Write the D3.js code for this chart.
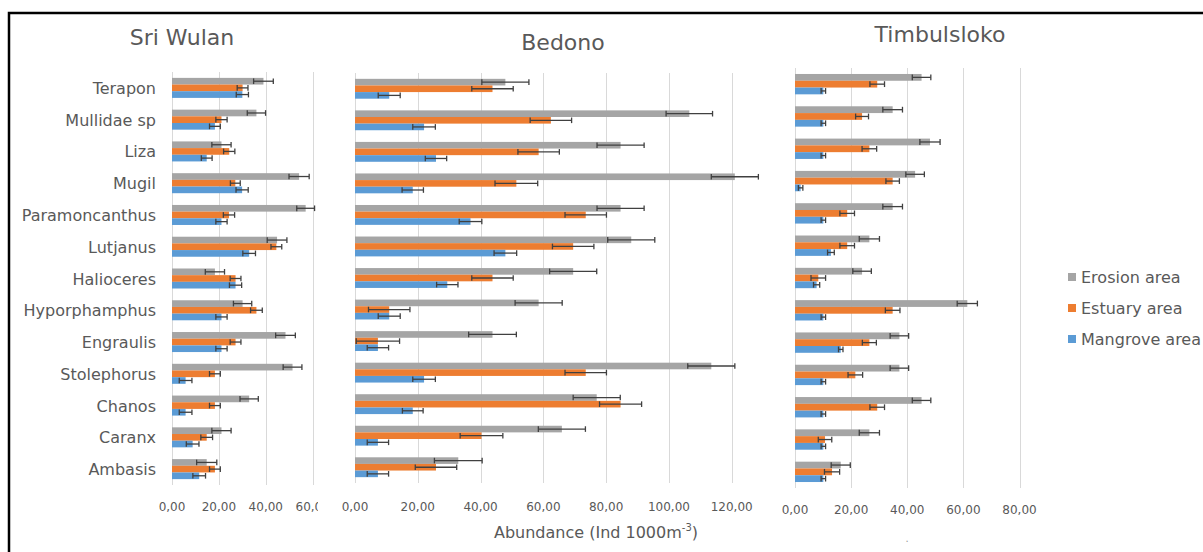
<!DOCTYPE html>
<html>
<head>
<meta charset="utf-8">
<script src="https://cdnjs.cloudflare.com/ajax/libs/d3/7.8.5/d3.min.js"></script>
<style>
  body { margin: 0; background: #fff; }
  svg { display: block; font-family: "DejaVu Sans", Verdana, sans-serif; }
</style>
</head>
<body>
<div id="chart"></div>
<script>
// categories, top to bottom
var species = ["Terapon", "Mullidae sp", "Liza", "Mugil", "Paramoncanthus", "Lutjanus",
  "Halioceres", "Hyporphamphus", "Engraulis", "Stolephorus", "Chanos", "Caranx", "Ambasis"];
var seriesNames = ["Erosion area", "Estuary area", "Mangrove area"];
var seriesColors = ["#A5A5A5", "#ED7D31", "#5B9BD5"];

// Sri Wulan
var sriErosion     = [39.0, 36.0, 21.1, 54.2, 57.0, 44.8, 18.3, 30.1, 48.4, 51.4, 32.9, 21.1, 14.8];
var sriErosionErr  = [4.2, 3.9, 4.1, 4.3, 3.8, 4.2, 4.1, 3.9, 4.2, 4.0, 3.9, 4.1, 4.3];
var sriEstuary     = [30.1, 21.1, 24.4, 27.0, 24.3, 44.5, 27.1, 36.0, 27.1, 18.3, 18.3, 14.8, 18.3];
var sriEstuaryErr  = [2.3, 2.4, 2.4, 2.1, 2.4, 2.3, 2.3, 2.5, 2.3, 2.3, 2.3, 2.5, 2.3];
var sriMangrove    = [30.0, 18.3, 14.8, 29.9, 21.1, 32.9, 27.1, 21.1, 21.1, 5.8, 5.8, 8.8, 11.6];
var sriMangroveErr = [2.6, 2.3, 2.3, 2.6, 2.4, 2.7, 2.6, 2.4, 2.4, 2.7, 2.7, 2.7, 2.7];

// Bedono
var bedErosion     = [47.9, 106.5, 84.6, 121.0, 84.6, 88.0, 69.5, 58.5, 43.8, 113.5, 77.0, 65.9, 32.9];
var bedErosionErr  = [7.5, 7.4, 7.5, 7.5, 7.5, 7.5, 7.5, 7.5, 7.6, 7.5, 7.5, 7.5, 7.6];
var bedEstuary     = [43.8, 62.4, 58.5, 51.4, 73.5, 69.5, 43.8, 10.9, 7.3, 73.5, 84.6, 40.3, 25.8];
var bedEstuaryErr  = [6.6, 6.6, 6.6, 6.8, 6.6, 6.6, 6.6, 6.6, 6.9, 6.6, 6.7, 6.8, 6.6];
var bedMangrove    = [10.9, 22.0, 25.8, 18.4, 36.8, 47.9, 29.4, 10.9, 7.3, 22.0, 18.4, 7.3, 7.3];
var bedMangroveErr = [3.5, 3.6, 3.4, 3.4, 3.6, 3.6, 3.4, 3.5, 3.4, 3.6, 3.3, 3.4, 3.4];

// Timbulsloko
var timErosion     = [45.1, 34.8, 48.1, 42.8, 34.8, 26.5, 23.9, 61.4, 37.2, 37.2, 45.1, 26.5, 16.3];
var timErosionErr  = [3.3, 3.5, 3.6, 3.3, 3.5, 3.6, 3.3, 3.6, 3.3, 3.3, 3.3, 3.6, 3.4];
var timEstuary     = [29.3, 23.9, 26.5, 34.8, 18.6, 18.6, 8.3, 34.8, 26.5, 21.5, 29.3, 10.7, 13.2];
var timEstuaryErr  = [2.6, 2.3, 2.6, 2.4, 2.6, 2.6, 2.6, 2.6, 2.5, 2.6, 2.6, 2.4, 2.7];
var timMangrove    = [10.1, 10.1, 10.1, 2.0, 10.1, 12.8, 7.7, 10.1, 16.3, 10.1, 10.1, 10.1, 10.1];
var timMangroveErr = [0.8, 0.8, 0.8, 0.8, 0.8, 1.2, 1.1, 0.8, 0.8, 0.8, 0.8, 0.8, 0.8];

var width = 1203, height = 552;
var textColor = "#595959";
var fmt = function(v) { return d3.format(".2f")(v).replace(".", ","); };

var svg = d3.select("#chart").append("svg")
  .attr("width", width)
  .attr("height", height);

svg.append("defs").append("clipPath").attr("id", "clip-sri")
  .append("rect").attr("x", 0).attr("y", 0).attr("width", 318).attr("height", height);

var panels = [
  { title: "Sri Wulan", tx: 182, ty: 45, x0: 172, x1: 312.7, y0: 72, y1: 485, max: 60, ticks: [0, 20, 40, 60],
    tickY: 511, labels: true, clip: "url(#clip-sri)",
    values: [sriErosion, sriEstuary, sriMangrove], errs: [sriErosionErr, sriEstuaryErr, sriMangroveErr] },
  { title: "Bedono", tx: 563, ty: 50, x0: 355, x1: 731.7, y0: 73, y1: 483, max: 120, ticks: [0, 20, 40, 60, 80, 100, 120],
    tickY: 511, labels: false, clip: null,
    values: [bedErosion, bedEstuary, bedMangrove], errs: [bedErosionErr, bedEstuaryErr, bedMangroveErr] },
  { title: "Timbulsloko", tx: 940, ty: 42, x0: 795, x1: 1019.5, y0: 68, y1: 488, max: 80, ticks: [0, 20, 40, 60, 80],
    tickY: 514, labels: false, clip: null,
    values: [timErosion, timEstuary, timMangrove], errs: [timErosionErr, timEstuaryErr, timMangroveErr] }
];

panels.forEach(function(p) {
  var g = svg.append("g").attr("clip-path", p.clip);

  var x = d3.scaleLinear().domain([0, p.max]).range([p.x0, p.x1]);
  var y = d3.scaleBand().domain(species).range([p.y0, p.y1]).paddingInner(0.37).paddingOuter(0.185);
  var ys = d3.scaleBand().domain(d3.range(3)).range([0, y.bandwidth()]);

  // title
  g.append("text")
    .attr("x", p.tx).attr("y", p.ty)
    .attr("text-anchor", "middle")
    .attr("font-size", 22)
    .attr("fill", textColor)
    .text(p.title);

  // gridlines
  g.append("g").selectAll("line")
    .data(p.ticks).enter().append("line")
    .attr("x1", function(d) { return Math.round(x(d)) + 0.5; })
    .attr("x2", function(d) { return Math.round(x(d)) + 0.5; })
    .attr("y1", p.y0).attr("y2", p.y1)
    .attr("stroke", "#D9D9D9").attr("stroke-width", 1);

  // tick labels
  g.append("g").selectAll("text")
    .data(p.ticks).enter().append("text")
    .attr("x", function(d) { return x(d); })
    .attr("y", p.tickY)
    .attr("text-anchor", "middle")
    .attr("font-size", 12)
    .attr("fill", textColor)
    .text(fmt);

  // category labels
  if (p.labels) {
    g.append("g").selectAll("text")
      .data(species).enter().append("text")
      .attr("x", 156)
      .attr("y", function(d) { return y(d) + y.bandwidth() / 2 + 6; })
      .attr("text-anchor", "end")
      .attr("font-size", 16)
      .attr("fill", textColor)
      .text(function(d) { return d; });
  }

  // bars + error bars
  p.values.forEach(function(vals, si) {
    var errs = p.errs[si];
    var sg = g.append("g");
    sg.selectAll("rect")
      .data(vals).enter().append("rect")
      .attr("x", x(0))
      .attr("y", function(d, i) { return y(species[i]) + ys(si); })
      .attr("width", function(d) { return x(d) - x(0); })
      .attr("height", ys.bandwidth())
      .attr("fill", seriesColors[si]);

    var eg = sg.selectAll("g.err")
      .data(vals).enter().append("g").attr("class", "err")
      .attr("stroke", "#404040").attr("stroke-width", 1.3);
    eg.append("line")
      .attr("x1", function(d, i) { return x(Math.max(0, d - errs[i])); })
      .attr("x2", function(d, i) { return x(d + errs[i]); })
      .attr("y1", function(d, i) { return y(species[i]) + ys(si) + ys.bandwidth() / 2; })
      .attr("y2", function(d, i) { return y(species[i]) + ys(si) + ys.bandwidth() / 2; });
    [-1, 1].forEach(function(sign) {
      eg.append("line")
        .attr("x1", function(d, i) { return x(Math.max(0, d + sign * errs[i])); })
        .attr("x2", function(d, i) { return x(Math.max(0, d + sign * errs[i])); })
        .attr("y1", function(d, i) { return y(species[i]) + ys(si) + 0.5; })
        .attr("y2", function(d, i) { return y(species[i]) + ys(si) + ys.bandwidth() - 0.5; });
    });
  });
});

// x axis title
var axTitle = svg.append("text")
  .attr("x", 596).attr("y", 538)
  .attr("text-anchor", "middle")
  .attr("font-size", 16)
  .attr("fill", textColor);
axTitle.append("tspan").text("Abundance (Ind 1000m");
axTitle.append("tspan").attr("font-size", 10).attr("dy", -7).text("-3");
axTitle.append("tspan").attr("dy", 7).text(")");

// stray mark under Timbulsloko axis
svg.append("text")
  .attr("x", 907).attr("y", 542)
  .attr("text-anchor", "middle")
  .attr("font-size", 10)
  .attr("fill", "#999")
  .text(".");

// legend
var legend = svg.append("g").selectAll("g")
  .data(seriesNames).enter().append("g")
  .attr("transform", function(d, i) { return "translate(1068," + (277 + i * 31) + ")"; });
legend.append("rect")
  .attr("x", 0).attr("y", -4)
  .attr("width", 8).attr("height", 8)
  .attr("fill", function(d, i) { return seriesColors[i]; });
legend.append("text")
  .attr("x", 13).attr("y", 6)
  .attr("font-size", 16)
  .attr("fill", textColor)
  .text(function(d) { return d; });

// frame
svg.append("path")
  .attr("d", "M9," + height + "V13H" + width)
  .attr("fill", "none")
  .attr("stroke", "#000")
  .attr("stroke-width", 2.5);
</script>
</body>
</html>
